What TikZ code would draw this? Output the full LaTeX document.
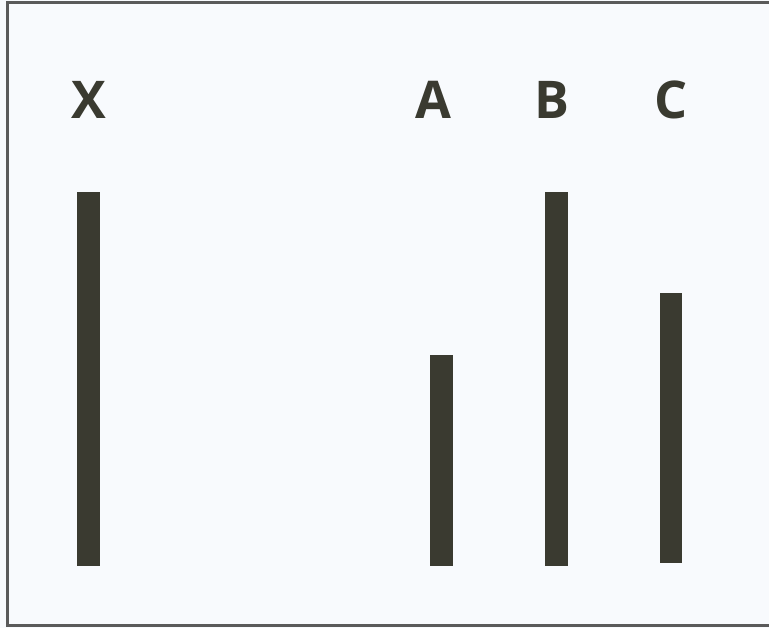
\documentclass[tikz,border=0pt]{standalone}
\usepackage{fontspec}
\setmainfont{Open Sans}
\definecolor{paper}{HTML}{F8FAFD}
\definecolor{ink}{HTML}{3A3A30}
\definecolor{frame}{HTML}{5A5A5A}

\begin{document}
\begin{tikzpicture}[
    x=1pt, y=-1pt,
    bar/.style={
        fill=ink,
        draw=none,
        inner sep=0pt,
        anchor=south,
        minimum width=23pt
    },
    letter/.style={
        text=ink,
        inner sep=0pt,
        font=\fontsize{52}{60}\selectfont\bfseries
    }
]

% ------------------------
% Paper and frame
% ------------------------
\fill[paper] (0,0) rectangle (769,628);
\useasboundingbox (0,0) rectangle (769,628);
\draw[frame, line width=3pt] (769,3) -- (7,3) -- (7,625) -- (769,625);

% ------------------------
% Standard line
% ------------------------
\node[bar, minimum height=374pt] (barX) at (88.5,566) {};
\node[letter] (labX) at (89,100) {X};

% ------------------------
% Comparison lines
% ------------------------
\node[bar, minimum height=211pt] (barA) at (441.5,566) {};
\node[bar, minimum height=374pt] (barB) at (556.5,566) {};
\node[bar, minimum height=270pt, minimum width=22pt] (barC) at (671,563) {};

\node[letter] (labA) at (433,100) {A};
\node[letter] (labB) at (552,100) {B};
\node[letter] (labC) at (671,100) {C};

\end{tikzpicture}
\end{document}
